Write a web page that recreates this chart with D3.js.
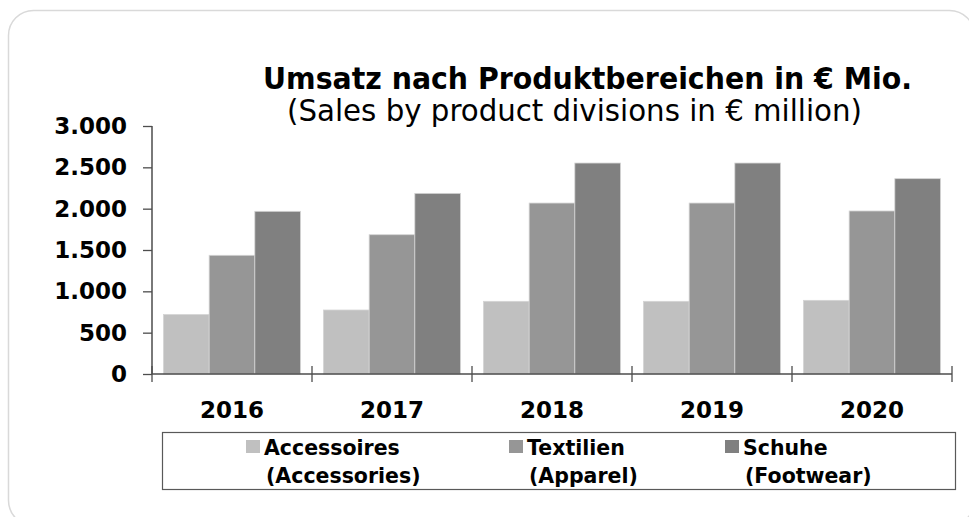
<!DOCTYPE html>
<html>
<head>
<meta charset="utf-8">
<title>Umsatz nach Produktbereichen</title>
<style>
  body { margin: 0; background: #fff; }
  svg { display: block; }
  .tick-y text { font-family: "DejaVu Sans", Verdana, sans-serif; font-weight: bold; font-size: 23px; fill: #000; }
  .year { font-family: "DejaVu Sans", Verdana, sans-serif; font-weight: bold; font-size: 23px; }
  .legend text { font-family: "DejaVu Sans", Verdana, sans-serif; font-weight: bold; font-size: 20.5px; }
</style>
</head>
<body>
<script src="https://cdn.jsdelivr.net/npm/d3@7"></script>
<script>
// data
var years = ["2016", "2017", "2018", "2019", "2020"];
var series = ["Accessoires", "Textilien", "Schuhe"];
var seriesEn = ["(Accessories)", "(Apparel)", "(Footwear)"];
var accessoires = [719, 774, 879, 879, 891];
var textilien = [1436, 1685, 2068, 2068, 1972];
var schuhe = [1968, 2185, 2552, 2552, 2363];
var yTicks = [0, 500, 1000, 1500, 2000, 2500, 3000];
var colors = ["#c0c0c0", "#969696", "#808080"];

var values = [accessoires, textilien, schuhe];
var rows = years.map(function(y, i) {
  return { year: y, vals: series.map(function(s, j) { return { key: s, value: values[j][i] }; }) };
});

var width = 969, height = 517;
var svg = d3.select("body").append("svg")
  .attr("width", width)
  .attr("height", height);

// card frame
svg.append("rect")
  .attr("x", 8.5).attr("y", 10.5)
  .attr("width", 966).attr("height", 515)
  .attr("rx", 25).attr("ry", 25)
  .attr("fill", "#fff")
  .attr("stroke", "#d9d9d9")
  .attr("stroke-width", 1.5);

var x0 = d3.scaleBand()
  .domain(years)
  .range([152, 952])
  .paddingInner(0.14375)
  .paddingOuter(0.071875);

var x1 = d3.scaleBand()
  .domain(series)
  .range([0, x0.bandwidth()]);

var y = d3.scaleLinear()
  .domain([0, 3000])
  .range([374, 126]);

var color = d3.scaleOrdinal().domain(series).range(colors);

var de = d3.formatLocale({ decimal: ",", thousands: ".", grouping: [3], currency: ["", " €"] });
var fmt = de.format(",");

// title
svg.append("text")
  .attr("x", 263).attr("y", 89)
  .attr("textLength", 649)
  .attr("lengthAdjust", "spacingAndGlyphs")
  .style("font-family", "'DejaVu Sans Condensed', 'DejaVu Sans', sans-serif")
  .style("font-weight", "bold")
  .style("font-size", "30px")
  .text("Umsatz nach Produktbereichen in € Mio.");

svg.append("text")
  .attr("x", 287).attr("y", 121)
  .attr("textLength", 575)
  .attr("lengthAdjust", "spacingAndGlyphs")
  .style("font-family", "'DejaVu Sans Condensed', 'DejaVu Sans', sans-serif")
  .style("font-size", "30px")
  .text("(Sales by product divisions in € million)");

// bars
var groups = svg.append("g").selectAll("g")
  .data(rows)
  .join("g")
  .attr("transform", function(d) { return "translate(" + x0(d.year) + ",0)"; });

groups.selectAll("rect")
  .data(function(d) { return d.vals; })
  .join("rect")
  .attr("x", function(d) { return x1(d.key); })
  .attr("y", function(d) { return y(d.value); })
  .attr("width", x1.bandwidth())
  .attr("height", function(d) { return y(0) - y(d.value); })
  .attr("fill", function(d) { return color(d.key); })
  .attr("stroke", "#d4d4d4")
  .attr("stroke-width", 0.8);

// y axis
var yAxis = svg.append("g")
  .attr("class", "tick-y")
  .attr("transform", "translate(152,0)")
  .call(d3.axisLeft(y).tickValues(yTicks).tickFormat(fmt).tickSize(9).tickPadding(16).tickSizeOuter(0));
yAxis.select(".domain").remove();
yAxis.selectAll("line").attr("stroke", "#4d4d4d").attr("stroke-width", 1.3);
yAxis.append("line")
  .attr("x1", 0).attr("x2", 0)
  .attr("y1", y(3000)).attr("y2", y(0))
  .attr("stroke", "#4d4d4d").attr("stroke-width", 1.5);

// x axis
var step = x0.step();
var bounds = years.map(function(d) { return x0(d) - step * x0.paddingInner() / 2; });
bounds.push(bounds[bounds.length - 1] + step);

var xAxis = svg.append("g");
xAxis.append("line")
  .attr("x1", bounds[0]).attr("x2", bounds[bounds.length - 1])
  .attr("y1", y(0)).attr("y2", y(0))
  .attr("stroke", "#4d4d4d").attr("stroke-width", 1.5);
xAxis.selectAll("line.bt")
  .data(bounds)
  .join("line")
  .attr("class", "bt")
  .attr("x1", function(d) { return d; }).attr("x2", function(d) { return d; })
  .attr("y1", y(0) - 8).attr("y2", y(0) + 8)
  .attr("stroke", "#4d4d4d").attr("stroke-width", 1.3);
xAxis.selectAll("text")
  .data(years)
  .join("text")
  .attr("class", "year")
  .attr("x", function(d) { return x0(d) + x0.bandwidth() / 2; })
  .attr("y", 418)
  .attr("text-anchor", "middle")
  .text(function(d) { return d; });

// legend
var legend = svg.append("g").attr("class", "legend");
legend.append("rect")
  .attr("x", 162.5).attr("y", 432.5)
  .attr("width", 793).attr("height", 57)
  .attr("fill", "none")
  .attr("stroke", "#595959")
  .attr("stroke-width", 1.2);

var legendX = d3.scaleOrdinal().domain(series).range([246, 509, 725]);

var items = legend.selectAll("g.item")
  .data(series)
  .join("g")
  .attr("class", "item")
  .attr("transform", function(d) { return "translate(" + legendX(d) + ",0)"; });
items.append("rect")
  .attr("x", 0).attr("y", 440)
  .attr("width", 14).attr("height", 13)
  .attr("fill", function(d) { return color(d); });
items.append("text")
  .attr("x", 18).attr("y", 455)
  .text(function(d) { return d; });
items.append("text")
  .attr("x", 20).attr("y", 483)
  .text(function(d, i) { return seriesEn[i]; });
</script>
</body>
</html>
